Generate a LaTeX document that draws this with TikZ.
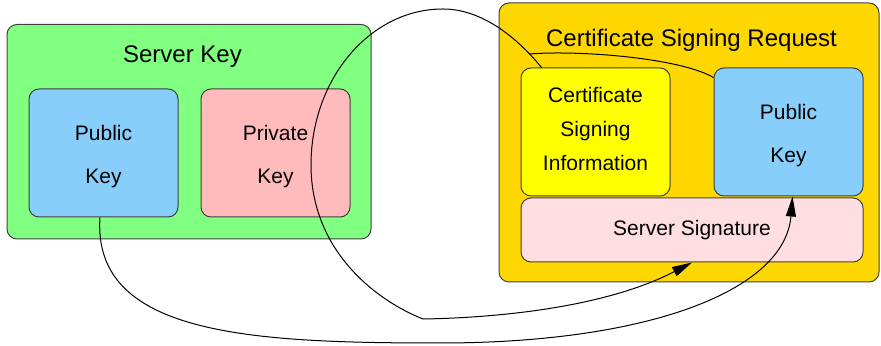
\documentclass[tikz,border=0pt]{standalone}
\usepackage{fontspec}
\setmainfont{Liberation Sans}
\usetikzlibrary{positioning, calc, arrows.meta}
\definecolor{keygreen}{RGB}{128,255,128}
\definecolor{keyblue}{RGB}{135,206,250}
\definecolor{keypink}{RGB}{255,187,187}
\definecolor{csrgold}{RGB}{255,215,0}
\definecolor{infoyellow}{RGB}{255,255,0}
\definecolor{sigpink}{RGB}{255,222,226}
\definecolor{boxline}{RGB}{64,64,64}
\newcommand{\toppad}{\rule{0pt}{11.3pt}}
\tikzset{%
  groupbox/.style={draw=boxline, line width=0.5pt, rounded corners=5pt, inner sep=0mm},
  block/.style={
    draw=boxline,
    line width=0.5pt,
    rounded corners=5pt,
    align=center,
    minimum width=74.5pt,
    minimum height=64pt,
    inner sep=0mm,
    font=\fontsize{10.5}{21.5}\selectfont
  },
  infobox/.style={block, font=\fontsize{10.5}{17}\selectfont, execute at end node={\rule[-3.2pt]{0pt}{0pt}}},
  grouptitle/.style={anchor=base, font=\fontsize{12}{14}\selectfont},
  link/.style={line width=0.5pt},
  move/.style={-{Triangle[length=10pt,width=5pt]}}
}
\begin{document}
\begin{tikzpicture}[x=0.5pt, y=-0.5pt]
  \useasboundingbox (0,0) rectangle (881,346);
  % server key
  \node[groupbox, fill=keygreen, minimum width=182pt, minimum height=107.25pt] (skey) at (189,131.75) {};
  \node[grouptitle] (skeyname) at (182.5,63) {Server Key};
  \node[block, fill=keyblue] (pubkey) at (103.5,153) {\toppad Public\\Key};
  \node[block, fill=keypink, right=11pt of pubkey] (privkey) {\toppad Private\\Key};
  % certificate signing request
  \node[groupbox, fill=csrgold, minimum width=190pt, minimum height=139.5pt] (csr) at (689,142.5) {};
  \node[grouptitle] (csrname) at (691.5,46.7) {Certificate Signing Request};
  \node[infobox, fill=infoyellow] (info) at (595.5,132) {Certificate\\Signing\\Information};
  \node[block, fill=keyblue, right=21.5pt of info] (csrkey) {\toppad Public\\Key};
  \node[block, fill=sigpink, minimum width=171pt, minimum height=32pt, below right=0.5pt and 0pt of info.south west] (sig) {Server Signature};
  % connectors
  \coordinate (join) at (529,54);
  \draw[link, move] ([xshift=-1.75pt]pubkey.south) .. controls (92,335) and (250,343) .. (440,343)
    .. controls (650,343) and (785,290) .. ([xshift=2pt]csrkey.south);
  \draw[link, move] ($(info.north west)!0.14!(info.north east)$) .. controls (515,35) and (480,9) .. (443,9)
    .. controls (370,9) and (311,79) .. (311,165)
    .. controls (311,250) and (375,300) .. (423,319)
    .. controls (485,318) and (600,310) .. (sig.south);
  \draw[link] (csrkey.144) .. controls (680,58) and (580,50) .. (join);
\end{tikzpicture}
\end{document}
